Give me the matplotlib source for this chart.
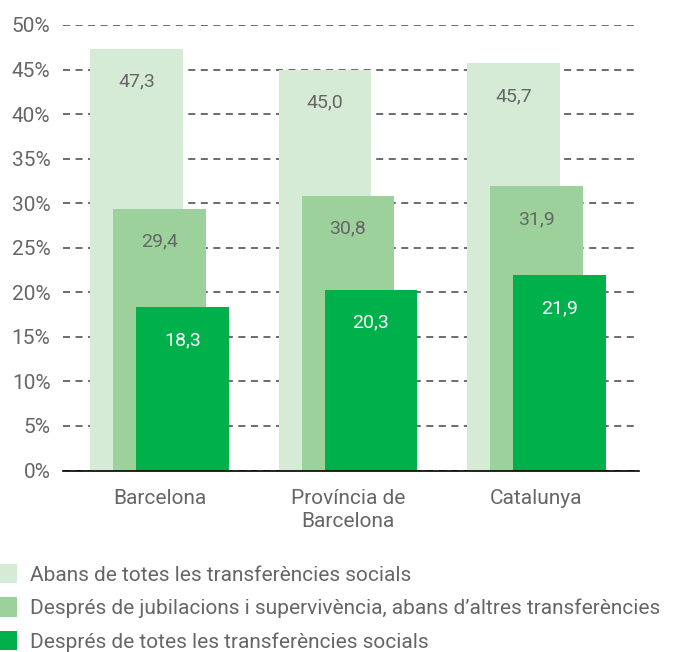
import matplotlib.pyplot as plt
import numpy as np
from matplotlib.patches import Patch

plt.rcParams['font.family'] = ['Roboto', 'DejaVu Sans']

categories = ['Barcelona', 'Província de\nBarcelona', 'Catalunya']
abans_totes = [47.3, 45.0, 45.7]
despres_jubilacions = [29.4, 30.8, 31.9]
despres_totes = [18.3, 20.3, 21.9]
series_labels = ['Abans de totes les transferències socials',
                 'Després de jubilacions i supervivència, abans d’altres transferències',
                 'Després de totes les transferències socials']
yticks = [0, 5, 10, 15, 20, 25, 30, 35, 40, 45, 50]

colors = ['#d5ebd5', '#9dd19c', '#00b04a']
txt_colors = ['#666666', '#666666', '#ffffff']
gray = '#666666'

fig = plt.figure(figsize=(6.86, 6.52), dpi=100)
ax = fig.add_axes([63 / 686, 1 - 470.5 / 652, (639 - 63) / 686, (470.5 - 25) / 652])

x = np.arange(len(categories))
width = 0.493
offset = 0.122
series = [abans_totes, despres_jubilacions, despres_totes]
for i, (vals, c, tc) in enumerate(zip(series, colors, txt_colors)):
    xs = x + (i - 1) * offset
    ax.bar(xs, vals, width=width, color=c, zorder=2 + i, linewidth=0)
    for xi, v in zip(xs, vals):
        ax.annotate(f'{v:.1f}'.replace('.', ','), xy=(xi, v), xytext=(0, -23.5),
                    textcoords='offset points', ha='center', va='center',
                    fontsize=14, color=tc, zorder=10)

ax.set_xlim(-0.512, 2.544)
ax.set_ylim(0, 50)
ax.set_yticks(yticks)
ax.set_yticklabels([f'{t}%' for t in yticks])
ax.set_xticks(x)
ax.set_xticklabels(categories, linespacing=1.3)
ax.tick_params(axis='y', length=0, pad=9, labelsize=15, labelcolor=gray)
ax.tick_params(axis='x', length=0, pad=13, labelsize=15, labelcolor=gray)
ax.yaxis.grid(True, color='#444444', linewidth=1.1, linestyle=(0, (4.6, 3.6)), zorder=1)
ax.set_axisbelow(True)
for s in ['left', 'right', 'top']:
    ax.spines[s].set_visible(False)
ax.spines['bottom'].set_color('black')
ax.spines['bottom'].set_linewidth(1.2)
ax.spines['bottom'].set_zorder(20)

handles = [Patch(facecolor=c, edgecolor='none') for c in colors]
fig.legend(handles, series_labels, loc='upper left', bbox_to_anchor=(0, 1 - 564 / 652),
           frameon=False, fontsize=15, labelcolor=gray, handlelength=0.82,
           handleheight=1.06, handletextpad=0.62, labelspacing=0.6,
           borderpad=0, borderaxespad=0)

fig.savefig('out.png', dpi=100)
